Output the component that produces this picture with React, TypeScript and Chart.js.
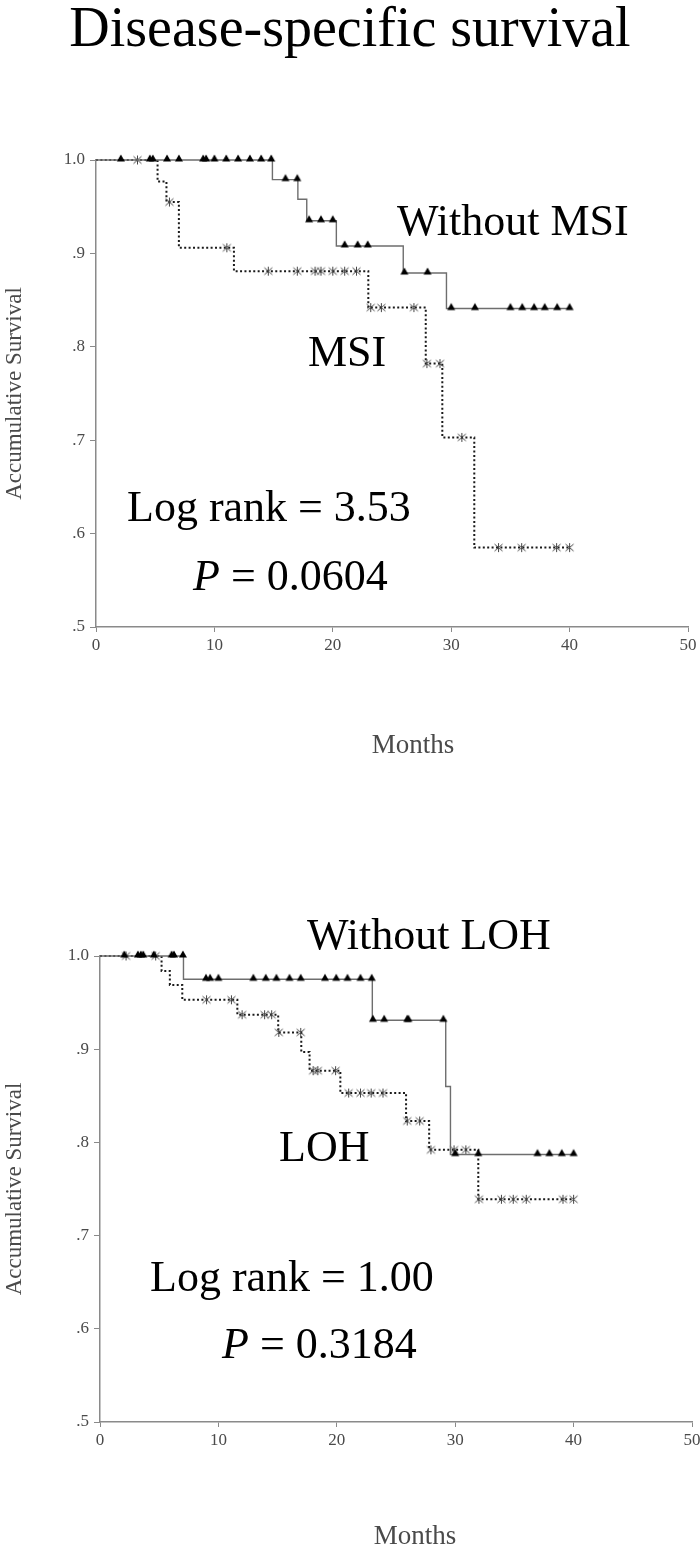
import React, { useEffect, useRef } from 'react';
import { Chart, registerables } from 'chart.js';

Chart.register(...registerables);

// ---------- data (months, cumulative survival) ----------
const X_TICKS = [0, 10, 20, 30, 40, 50];
const Y_TICK_LABELS = ['.5', '.6', '.7', '.8', '.9', '1.0'];

// Panel 1: MSI
const NOMSI_EVENT_MONTHS = [14.9, 17.05, 17.8, 20.3, 25.95, 29.6];
const NOMSI_EVENT_SURV = [0.979, 0.958, 0.935, 0.908, 0.879, 0.841];
const NOMSI_END = 40.0;
const NOMSI_CENSORED = [2.1, 4.55, 4.8, 6.0, 7.0, 9.05, 9.3, 10.0, 11.0, 12.0, 13.0, 13.95, 14.8, 16.0, 17.0, 18.0, 19.0, 20.0, 21.0, 22.1, 22.95, 26.05, 28.0, 30.0, 32.0, 35.0, 36.0, 37.0, 37.9, 38.95, 40.0];

const MSI_EVENT_MONTHS = [5.2, 5.95, 7.0, 11.65, 23.0, 27.85, 29.25, 31.95];
const MSI_EVENT_SURV = [0.977, 0.955, 0.906, 0.881, 0.842, 0.782, 0.703, 0.585];
const MSI_END = 40.0;
const MSI_CENSORED = [3.5, 6.2, 11.05, 14.55, 17.0, 18.5, 19.0, 20.0, 21.0, 22.0, 23.2, 24.1, 26.85, 27.95, 29.05, 30.9, 34.0, 35.95, 38.9, 40.0];

// Panel 2: LOH
const NOLOH_EVENT_MONTHS = [7.05, 23.0, 29.2, 29.6];
const NOLOH_EVENT_SURV = [0.975, 0.931, 0.86, 0.787];
const NOLOH_END = 40.0;
const NOLOH_CENSORED = [2.05, 3.2, 3.45, 3.65, 4.55, 6.05, 6.25, 7.0, 8.95, 9.3, 10.0, 12.95, 14.0, 14.9, 16.0, 16.95, 19.0, 19.95, 20.9, 22.0, 22.95, 23.05, 24.0, 25.95, 26.05, 29.0, 30.0, 31.95, 36.95, 37.95, 39.0, 40.0];

const LOH_EVENT_MONTHS = [5.2, 5.9, 6.95, 11.6, 15.05, 17.0, 17.7, 20.3, 25.85, 27.8, 31.95];
const LOH_EVENT_SURV = [0.984, 0.969, 0.953, 0.937, 0.918, 0.897, 0.877, 0.853, 0.823, 0.792, 0.739];
const LOH_END = 40.0;
const LOH_CENSORED = [2.2, 4.7, 9.0, 11.1, 12.0, 13.9, 14.5, 15.1, 16.95, 18.0, 18.4, 19.9, 21.0, 22.0, 22.9, 23.9, 25.95, 27.0, 27.95, 29.9, 30.9, 32.0, 33.9, 34.9, 36.0, 39.1, 40.0];

// ---------- helpers ----------
const SERIF = "'Liberation Serif', 'Times New Roman', serif";
const AXIS_COLOR = '#8a8a8a';
const LABEL_COLOR = '#4a4a4a';

function curvePoints(months: number[], surv: number[], end: number) {
  const pts = [{ x: 0, y: 1 }];
  months.forEach((m, i) => pts.push({ x: m, y: surv[i] }));
  pts.push({ x: end, y: surv[surv.length - 1] });
  return pts;
}

function survAt(months: number[], surv: number[], t: number) {
  let s = 1;
  months.forEach((m, i) => {
    if (m <= t) s = surv[i];
  });
  return s;
}

function censorPoints(months: number[], surv: number[], cens: number[]) {
  return cens.map((t) => ({ x: t, y: survAt(months, surv, t) }));
}

function makeTriangle() {
  const c = document.createElement('canvas');
  c.width = 10;
  c.height = 14;
  const g = c.getContext('2d')!;
  g.fillStyle = '#000';
  g.beginPath();
  g.moveTo(5, 1.5);
  g.lineTo(9, 8.5);
  g.lineTo(1, 8.5);
  g.closePath();
  g.fill();
  return c;
}

function makeAsterisk() {
  const c = document.createElement('canvas');
  c.width = 11;
  c.height = 11;
  const g = c.getContext('2d')!;
  g.strokeStyle = '#444';
  g.lineWidth = 1;
  g.beginPath();
  g.moveTo(1.5, 2);
  g.lineTo(9.5, 9);
  g.moveTo(1.5, 9);
  g.lineTo(9.5, 2);
  g.moveTo(5.5, 1);
  g.lineTo(5.5, 10);
  g.stroke();
  return c;
}

type TextPart = { text: string; italic?: boolean };
type TextItem = { parts: TextPart[]; x: number; y: number; size: number; color?: string; align?: 'left' | 'center' };

function textPlugin(items: TextItem[]) {
  return {
    id: 'panelText',
    afterDraw(chart: any) {
      const ctx = chart.ctx as CanvasRenderingContext2D;
      ctx.save();
      ctx.textBaseline = 'alphabetic';
      ctx.textAlign = 'left';
      for (const it of items) {
        const fontOf = (p: TextPart) => `${p.italic ? 'italic ' : ''}${it.size}px ${SERIF}`;
        let total = 0;
        const widths = it.parts.map((p) => {
          ctx.font = fontOf(p);
          const w = ctx.measureText(p.text).width;
          total += w;
          return w;
        });
        let x = it.align === 'center' ? it.x - total / 2 : it.x;
        ctx.fillStyle = it.color || '#000';
        it.parts.forEach((p, i) => {
          ctx.font = fontOf(p);
          ctx.fillText(p.text, x, it.y);
          x += widths[i];
        });
      }
      ctx.restore();
    },
  };
}

type PanelSpec = {
  height: number;
  padTop: number;
  padRight: number;
  yWidth: number;
  plotBottom: number;
  solid: { months: number[]; surv: number[]; end: number; cens: number[] };
  dotted: { months: number[]; surv: number[]; end: number; cens: number[] };
  texts: TextItem[];
};

function buildConfig(p: PanelSpec, tri: HTMLCanvasElement, ast: HTMLCanvasElement): any {
  return {
    type: 'line',
    data: {
      datasets: [
        {
          label: 'solid-censored',
          data: censorPoints(p.solid.months, p.solid.surv, p.solid.cens),
          showLine: false,
          pointStyle: tri,
          pointRadius: 3,
          clip: false,
        },
        {
          label: 'solid',
          data: curvePoints(p.solid.months, p.solid.surv, p.solid.end),
          stepped: 'before',
          borderColor: '#6e6e6e',
          borderWidth: 1.4,
          pointRadius: 0,
          fill: false,
          clip: false,
        },
        {
          label: 'dotted-censored',
          data: censorPoints(p.dotted.months, p.dotted.surv, p.dotted.cens),
          showLine: false,
          pointStyle: ast,
          pointRadius: 3,
          clip: false,
        },
        {
          label: 'dotted',
          data: curvePoints(p.dotted.months, p.dotted.surv, p.dotted.end),
          stepped: 'before',
          borderColor: '#1a1a1a',
          borderWidth: 2,
          borderDash: [2, 2.4],
          pointRadius: 0,
          fill: false,
          clip: false,
        },
      ],
    },
    options: {
      animation: false,
      responsive: false,
      devicePixelRatio: 1,
      events: [],
      layout: { padding: { left: 0, right: p.padRight, top: p.padTop, bottom: 0 } },
      plugins: { legend: { display: false }, tooltip: { enabled: false }, title: { display: false } },
      scales: {
        x: {
          type: 'linear',
          min: X_TICKS[0],
          max: X_TICKS[X_TICKS.length - 1],
          afterBuildTicks: (s: any) => {
            s.ticks = X_TICKS.map((v) => ({ value: v }));
          },
          ticks: {
            autoSkip: false,
            maxRotation: 0,
            color: LABEL_COLOR,
            font: { family: SERIF, size: 17 },
            padding: 3,
          },
          grid: { display: true, drawOnChartArea: false, drawTicks: true, tickLength: 5, color: AXIS_COLOR, lineWidth: 1 },
          border: { display: true, color: AXIS_COLOR, width: 1.5 },
          afterFit: (s: any) => {
            s.height = p.height - p.plotBottom;
            s.paddingLeft = 0;
            s.paddingRight = 0;
          },
        },
        y: {
          type: 'linear',
          min: 0.5,
          max: 1.0,
          afterBuildTicks: (s: any) => {
            s.ticks = Y_TICK_LABELS.map((_, i) => ({ value: 0.5 + i * 0.1 }));
          },
          ticks: {
            autoSkip: false,
            color: LABEL_COLOR,
            font: { family: SERIF, size: 17 },
            padding: 5,
            callback: (_v: any, i: number) => Y_TICK_LABELS[i],
          },
          grid: { display: true, drawOnChartArea: false, drawTicks: true, tickLength: 6, color: AXIS_COLOR, lineWidth: 1 },
          border: { display: true, color: AXIS_COLOR, width: 1.5 },
          title: {
            display: true,
            text: 'Accumulative Survival',
            color: LABEL_COLOR,
            font: { family: SERIF, size: 23, lineHeight: 1.2 },
            padding: { top: 1, bottom: 0 },
          },
          afterFit: (s: any) => {
            s.width = p.yWidth;
            s.paddingTop = 0;
            s.paddingBottom = 0;
          },
        },
      },
    },
    plugins: [textPlugin(p.texts)],
  };
}

const PANEL_TOP: PanelSpec = {
  height: 770,
  padTop: 160,
  padRight: 12,
  yWidth: 96,
  plotBottom: 627,
  solid: { months: NOMSI_EVENT_MONTHS, surv: NOMSI_EVENT_SURV, end: NOMSI_END, cens: NOMSI_CENSORED },
  dotted: { months: MSI_EVENT_MONTHS, surv: MSI_EVENT_SURV, end: MSI_END, cens: MSI_CENSORED },
  texts: [
    { parts: [{ text: 'Disease-specific survival' }], x: 350, y: 46, size: 56, align: 'center' },
    { parts: [{ text: 'Without MSI' }], x: 397, y: 235, size: 44 },
    { parts: [{ text: 'MSI' }], x: 308, y: 366, size: 44 },
    { parts: [{ text: 'Log rank = 3.53' }], x: 127, y: 521, size: 44 },
    { parts: [{ text: 'P', italic: true }, { text: ' = 0.0604' }], x: 193, y: 590, size: 44 },
    { parts: [{ text: 'Months' }], x: 413, y: 753, size: 27, color: LABEL_COLOR, align: 'center' },
  ],
};

const PANEL_BOTTOM: PanelSpec = {
  height: 774,
  padTop: 181,
  padRight: 8,
  yWidth: 100,
  plotBottom: 647,
  solid: { months: NOLOH_EVENT_MONTHS, surv: NOLOH_EVENT_SURV, end: NOLOH_END, cens: NOLOH_CENSORED },
  dotted: { months: LOH_EVENT_MONTHS, surv: LOH_EVENT_SURV, end: LOH_END, cens: LOH_CENSORED },
  texts: [
    { parts: [{ text: 'Without LOH' }], x: 307, y: 174, size: 44 },
    { parts: [{ text: 'LOH' }], x: 279, y: 386, size: 44 },
    { parts: [{ text: 'Log rank = 1.00' }], x: 150, y: 516, size: 44 },
    { parts: [{ text: 'P', italic: true }, { text: ' = 0.3184' }], x: 222, y: 583, size: 44 },
    { parts: [{ text: 'Months' }], x: 415, y: 769, size: 27, color: LABEL_COLOR, align: 'center' },
  ],
};

function Panel({ spec, top }: { spec: PanelSpec; top: number }) {
  const ref = useRef<HTMLCanvasElement>(null);
  useEffect(() => {
    if (!ref.current) return;
    const chart = new Chart(ref.current, buildConfig(spec, makeTriangle(), makeAsterisk()));
    return () => chart.destroy();
  }, [spec]);
  return (
    <canvas
      ref={ref}
      width={700}
      height={spec.height}
      style={{ position: 'absolute', left: 0, top, width: 700, height: spec.height, display: 'block' }}
    />
  );
}

export default function App() {
  return (
    <div style={{ position: 'absolute', left: 0, top: 0, width: 700, height: 1549, background: '#fff', overflow: 'hidden' }}>
      <Panel spec={PANEL_TOP} top={0} />
      <Panel spec={PANEL_BOTTOM} top={775} />
    </div>
  );
}
